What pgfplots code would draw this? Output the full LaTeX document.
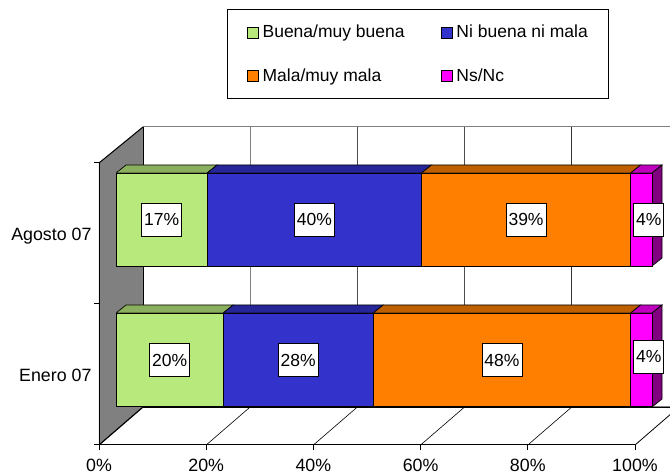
\documentclass[border=0pt]{standalone}
\usepackage{fontspec}
\setmainfont{Liberation Sans}
\usepackage{pgfplots}
\pgfplotsset{compat=1.18}
\definecolor{cgreen}{HTML}{B7E97C}
\definecolor{cblue}{HTML}{3333CC}
\definecolor{corange}{HTML}{FF8000}
\definecolor{cpink}{HTML}{FF00FF}
\definecolor{tgreen}{HTML}{8AAF5D}
\definecolor{tblue}{HTML}{262699}
\definecolor{torange}{HTML}{BF6000}
\definecolor{tpink}{HTML}{BF00BF}
\definecolor{spink}{HTML}{800080}
\definecolor{wall}{HTML}{808080}
\newcommand{\fs}{\fontsize{17.5}{20}\selectfont}
\newcommand{\ft}{\fontsize{17.8}{20}\selectfont}
\pgfplotsset{
  base/.style={scale only axis,width=536pt,height=282pt,xmin=0,xmax=100,ymin=0,ymax=282,clip=false},
  face/.style={fill=#1,draw=black,line width=0.7pt,forget plot},
  bar/.style={fill=#1,draw=black,line width=0.8pt},
  lab/.style={only marks,mark=none,forget plot,point meta=explicit symbolic,
    nodes near coords={\pgfplotspointmeta\%},
    nodes near coords style={anchor=center,fill=white,draw=black,line width=0.7pt,font=\fs,
      inner sep=0pt,minimum width=#1,minimum height=33pt}},
}
\begin{document}
\begin{tikzpicture}[x=1pt,y=1pt]
\useasboundingbox (0,0) rectangle (670,474);
\clip (0,0) rectangle (670,474);
% walls and floor
\begin{axis}[base,at={(99pt,29pt)},anchor=south west,axis lines=none]
\addplot[fill=white,draw=wall,line width=1pt] coordinates {(8.21,38)(110,38)(110,318)(8.21,318)(8.21,38)};
\addplot[wall,line width=1pt] coordinates {(28.2,38)(28.2,318)};
\addplot[wall!60!black,line width=1pt] coordinates {(48.2,38)(48.2,318)};
\addplot[wall!60!black,line width=1pt] coordinates {(68.2,38)(68.2,318)};
\addplot[black!80,line width=1pt] coordinates {(88.1,38)(88.1,318)};
\addplot[black,line width=0.8pt] coordinates {(8.21,38)(110,38)};
\addplot[fill=wall,draw=wall,line width=0.5pt] coordinates {(0,0)(8.21,38)(8.21,318)(0,282)(0,0)};
\addplot[black,line width=1pt] coordinates {(8.21,38)(8.21,318)};
\addplot[black,line width=1pt] coordinates {(0,282)(8.21,318)};
\addplot[black,line width=1.2pt] coordinates {(0,0)(8.21,38)};
\addplot[black,line width=0.6pt] coordinates {(20,0)(28.2,38)};
\addplot[black,line width=0.6pt] coordinates {(40,0)(48.2,38)};
\addplot[black,line width=0.6pt] coordinates {(60,0)(68.2,38)};
\addplot[black,line width=0.6pt] coordinates {(80,0)(88.2,38)};
\addplot[black,line width=0.8pt] coordinates {(100,0)(108.2,38)};
\end{axis}
% top and side faces of the bars
\begin{axis}[base,at={(116pt,29pt)},anchor=south west,axis lines=none]
\addplot[face=tgreen] coordinates {(0,272)(17,272)(18.87,280)(1.87,280)(0,272)};
\addplot[face=tblue] coordinates {(17,272)(57,272)(58.87,280)(18.87,280)(17,272)};
\addplot[face=torange] coordinates {(57,272)(96,272)(97.87,280)(58.87,280)(57,272)};
\addplot[face=tpink] coordinates {(96,272)(100,272)(101.87,280)(97.87,280)(96,272)};
\addplot[face=spink] coordinates {(100,272)(101.87,280)(101.87,187)(100,179)(100,272)};
\addplot[face=tgreen] coordinates {(0,132)(20,132)(21.87,140)(1.87,140)(0,132)};
\addplot[face=tblue] coordinates {(20,132)(48,132)(49.87,140)(21.87,140)(20,132)};
\addplot[face=torange] coordinates {(48,132)(96,132)(97.87,140)(49.87,140)(48,132)};
\addplot[face=tpink] coordinates {(96,132)(100,132)(101.87,140)(97.87,140)(96,132)};
\addplot[face=spink] coordinates {(100,132)(101.87,140)(101.87,46)(100,38)(100,132)};
\end{axis}
% front faces, with the legend
\begin{axis}[base,at={(116pt,29pt)},anchor=south west,axis lines=none,
  xbar stacked,bar width=93.5pt,
  legend columns=2,
  legend cell align=left,
  legend image code/.code={\draw[#1,draw=black,line width=0.8pt] (0pt,-5.5pt) rectangle (11pt,5.5pt);},
  legend style={at={(axis cs:56.4,391)},anchor=center,font=\fs,draw=black,line width=0.8pt,
    inner xsep=19pt,inner ysep=13.5pt,
    row sep=25pt,
    /tikz/column 1/.style={column sep=2pt},
    /tikz/column 2/.style={column sep=34pt},
    /tikz/column 3/.style={column sep=2pt}},
]
\addplot[bar=cgreen] coordinates {(20,85.25)(17,225.25)};
\addlegendentry{Buena/muy buena}
\addplot[bar=cblue] coordinates {(28,85.25)(40,225.25)};
\addlegendentry{Ni buena ni mala\hspace{22pt}}
\addplot[bar=corange] coordinates {(48,85.25)(39,225.25)};
\addlegendentry{Mala/muy mala}
\addplot[bar=cpink] coordinates {(4,85.25)(4,225.25)};
\addlegendentry{Ns/Nc}
\end{axis}
% data labels
\begin{axis}[base,at={(116pt,29pt)},anchor=south west,axis lines=none]
\addplot[lab=40pt] coordinates {(8.5,225.5)[17] (37,225.5)[40] (76.5,225.5)[39] (10,85)[20] (34,85)[28] (72,85)[48]};
\addplot[lab=30pt] coordinates {(99.4,225.5)[4] (99.4,88.5)[4]};
\end{axis}
% axis lines, ticks and tick labels, drawn last
\begin{axis}[base,at={(99pt,29pt)},anchor=south west,
  axis lines=left,axis line style={-,black,line width=1pt},
  axis on top=true,
  xtick={0,20,40,60,80,100},
  xticklabels={0\%,20\%,40\%,60\%,80\%,100\%},
  ytick={0,141,282},yticklabels={,,},
  extra y ticks={70.5,211.5},
  extra y tick labels={Enero 07,Agosto 07},
  extra y tick style={major tick length=0pt,tick label style={xshift=-4pt,yshift=-3pt,text height=13pt,text depth=4pt}},
  tick align=outside,major tick length=5pt,
  tick style={black,line width=1pt},
  tick label style={font=\ft},
  xtick pos=bottom,ytick pos=left,
  xticklabel style={yshift=-6pt},
]
\addplot[black,line width=1pt] coordinates {(0,282)(0,0)(100,0)};
\addplot[black,line width=1pt] coordinates {(0,0)(0,-5)};
\addplot[black,line width=1pt] coordinates {(20,0)(20,-5)};
\addplot[black,line width=1pt] coordinates {(40,0)(40,-5)};
\addplot[black,line width=1pt] coordinates {(60,0)(60,-5)};
\addplot[black,line width=1pt] coordinates {(80,0)(80,-5)};
\addplot[black,line width=1pt] coordinates {(100,0)(100,-5)};
\end{axis}
\end{tikzpicture}
\end{document}
